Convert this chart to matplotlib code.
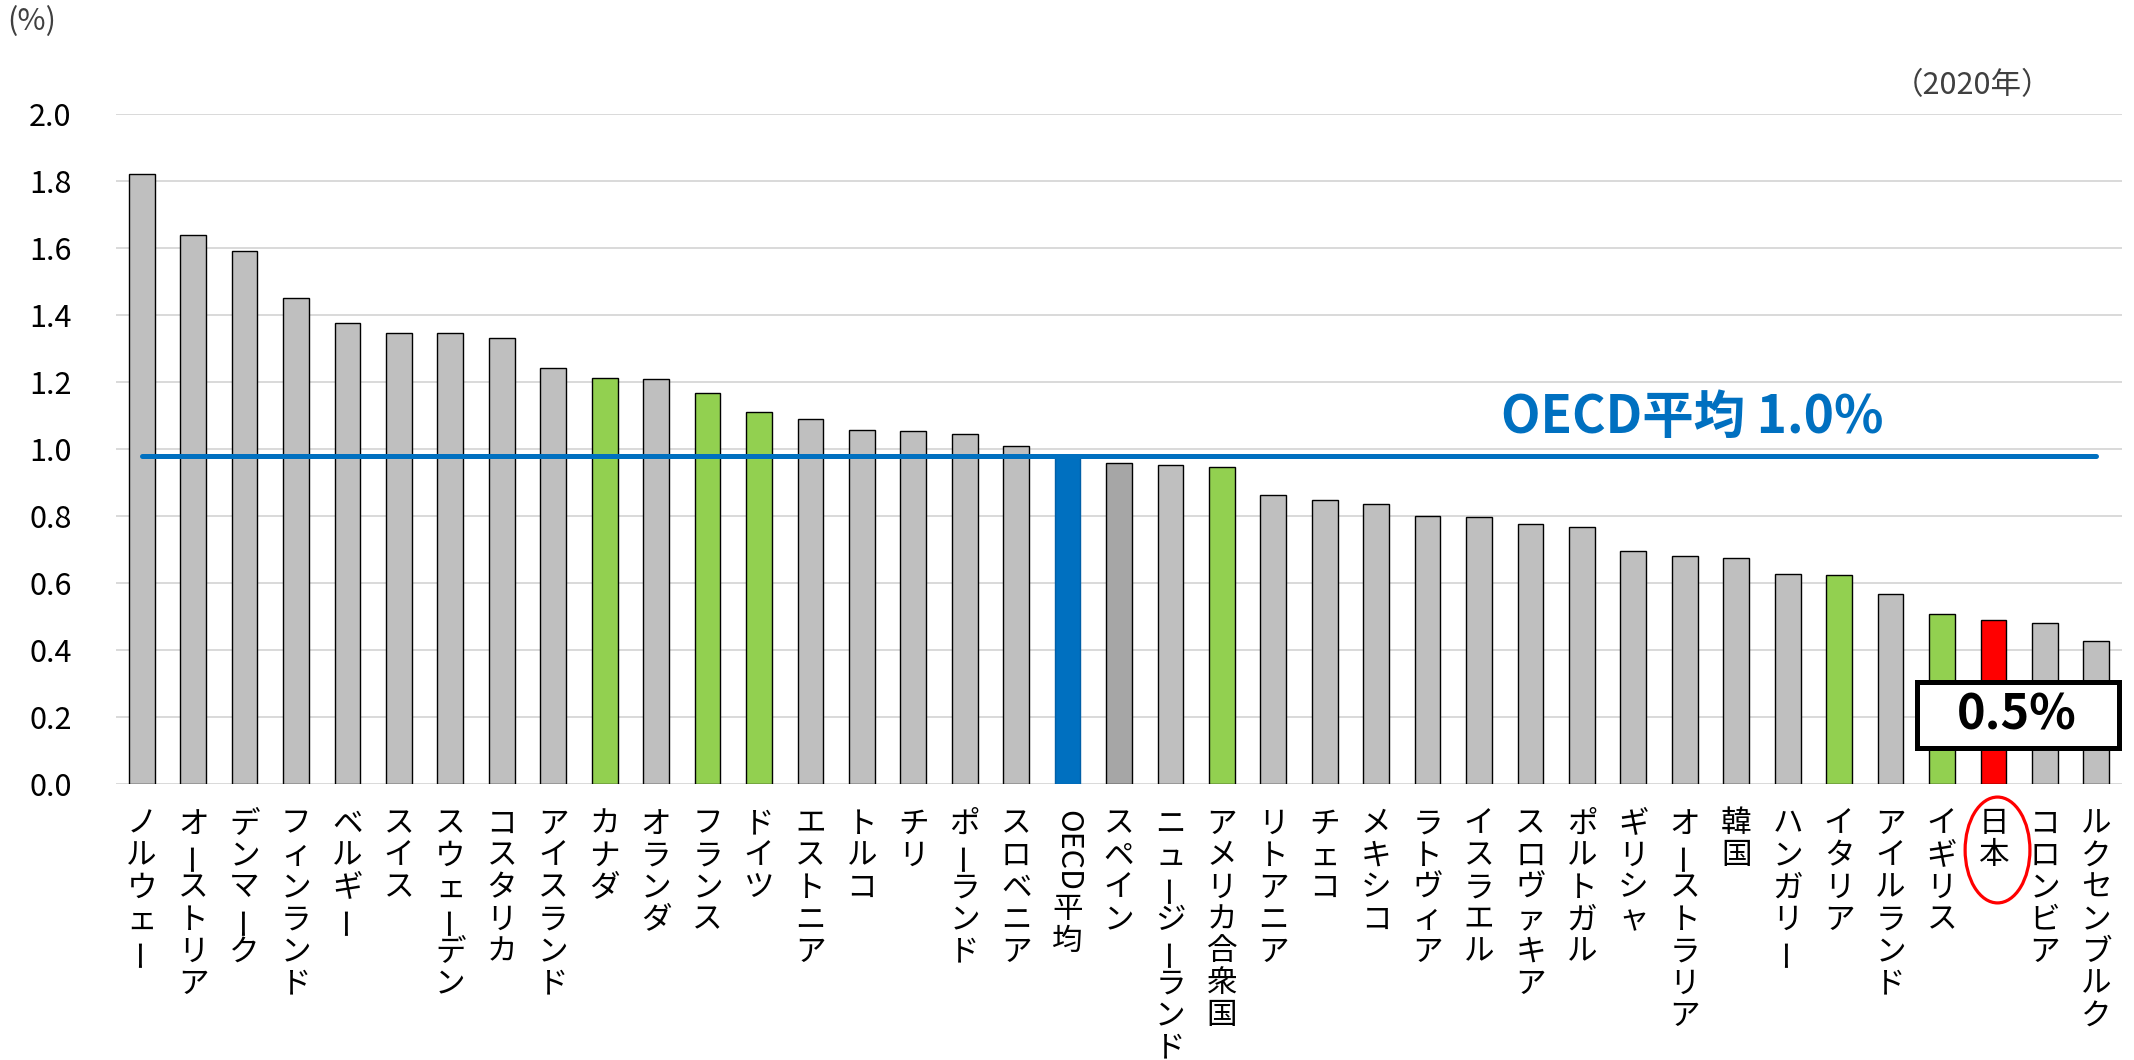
import matplotlib
matplotlib.use('Agg')
import matplotlib.pyplot as plt
from matplotlib.patches import Ellipse, Rectangle
import numpy as np

plt.rcParams['font.family'] = ['Noto Sans CJK JP', 'DejaVu Sans']

# ---- data ----
countries = ['ノルウェー', 'オーストリア', 'デンマーク', 'フィンランド', 'ベルギー', 'スイス',
             'スウェーデン', 'コスタリカ', 'アイスランド', 'カナダ', 'オランダ', 'フランス',
             'ドイツ', 'エストニア', 'トルコ', 'チリ', 'ポーランド', 'スロベニア', 'OECD平均',
             'スペイン', 'ニュージーランド', 'アメリカ合衆国', 'リトアニア', 'チェコ', 'メキシコ',
             'ラトヴィア', 'イスラエル', 'スロヴァキア', 'ポルトガル', 'ギリシャ', 'オーストラリア',
             '韓国', 'ハンガリー', 'イタリア', 'アイルランド', 'イギリス', '日本', 'コロンビア',
             'ルクセンブルク']
values = [1.82, 1.64, 1.59, 1.45, 1.375, 1.347, 1.346, 1.332, 1.243, 1.211, 1.209, 1.168,
          1.110, 1.090, 1.058, 1.054, 1.045, 1.010, 0.98, 0.959, 0.952, 0.945, 0.864, 0.849,
          0.836, 0.801, 0.798, 0.777, 0.768, 0.696, 0.682, 0.674, 0.626, 0.623, 0.568, 0.508,
          0.490, 0.481, 0.428]
g7_countries = ['カナダ', 'フランス', 'ドイツ', 'アメリカ合衆国', 'イタリア', 'イギリス']
oecd_name = 'OECD平均'
japan_name = '日本'
oecd_avg = 0.98
oecd_label = 'OECD平均 1.0%'
japan_label = '0.5%'
yticks = [0.0, 0.2, 0.4, 0.6, 0.8, 1.0, 1.2, 1.4, 1.6, 1.8, 2.0]
unit_label = '(%)'
year_label = '（2020年）'

# ---- styles ----
def bar_color(name):
    if name == japan_name:
        return '#FF0000'
    if name == oecd_name:
        return '#0070C0'
    if name in g7_countries:
        return '#92D050'
    if name == 'スペイン':
        return '#A6A6A6'
    return '#BFBFBF'

W, H = 2134, 1060
fig = plt.figure(figsize=(W / 100, H / 100), dpi=100)
ax = fig.add_axes([116 / W, 1 - 784 / H, (2122 - 116) / W, (784 - 114) / H])

n = len(countries)
x = np.arange(n)
colors = [bar_color(c) for c in countries]
edges = ['#0060A8' if c == oecd_name else 'black' for c in countries]
ax.bar(x, values, width=0.5, color=colors, edgecolor=edges, linewidth=1.0, zorder=2)

ax.set_xlim(-0.5, n - 0.5)
ax.set_ylim(0, 2.0)
ax.set_yticks(yticks)
ax.set_yticklabels([f'{v:.1f}' for v in yticks])
ax.yaxis.grid(True, color='#D9D9D9', linewidth=1.4, zorder=0)
ax.set_axisbelow(True)
for s in ax.spines.values():
    s.set_visible(False)
ax.tick_params(axis='y', length=0, pad=32, labelsize=22, labelcolor='black')
ax.set_xticks([])

# OECD average line
ax.plot([x[0], x[-1]], [oecd_avg, oecd_avg], color='#0070C0', lw=3.6,
        solid_capstyle='round', zorder=4)
ax.text(30.15, 1.015, oecd_label, color='#0070C0', fontsize=37, fontweight='bold',
        ha='center', va='bottom', zorder=5)

# Japan annotation box
jp = countries.index(japan_name)
ax.add_patch(Rectangle((jp - 1.48, 0.107), 3.93, 0.197, facecolor='white',
                       edgecolor='black', linewidth=3.6, zorder=6, clip_on=False))
ax.text(jp + 0.45, 0.206, japan_label, fontsize=35, fontweight='bold', color='black',
        ha='center', va='center', zorder=7)

# vertical category labels
trans = ax.get_xaxis_transform()
y0 = 40
pitch = 32
fs = 22
for i, name in enumerate(countries):
    k = 0.0
    j = 0
    while j < len(name):
        ch = name[j]
        if ch.isascii():
            run = ''
            while j < len(name) and name[j].isascii():
                run += name[j]
                j += 1
            span = 0.67 * len(run)
            center = k + (span - 1) / 2
            ax.annotate(run, xy=(i, 0), xycoords=trans,
                        xytext=(0, -(y0 + center * pitch)), textcoords='offset pixels',
                        ha='center', va='center', fontsize=fs, rotation=-90,
                        annotation_clip=False)
            k += span
            continue
        rot = 90 if ch == 'ー' else 0
        ax.annotate(ch, xy=(i, 0), xycoords=trans,
                    xytext=(0, -(y0 + k * pitch)), textcoords='offset pixels',
                    ha='center', va='center', fontsize=fs, rotation=rot,
                    annotation_clip=False)
        k += 1
        j += 1

# Japan ellipse around label
ax.add_patch(Ellipse((jp + 0.08, -0.197), 1.26, 0.316, fill=False, edgecolor='#FF0000',
                     linewidth=2.3, clip_on=False, zorder=8))

fig.text(7 / W, 1 - 6 / H, unit_label, fontsize=22, color='#404040', ha='left', va='top')
fig.text(2052 / W, 1 - 70 / H, year_label, fontsize=22, color='#404040', ha='right', va='top')

fig.savefig('out.png', dpi=100)
